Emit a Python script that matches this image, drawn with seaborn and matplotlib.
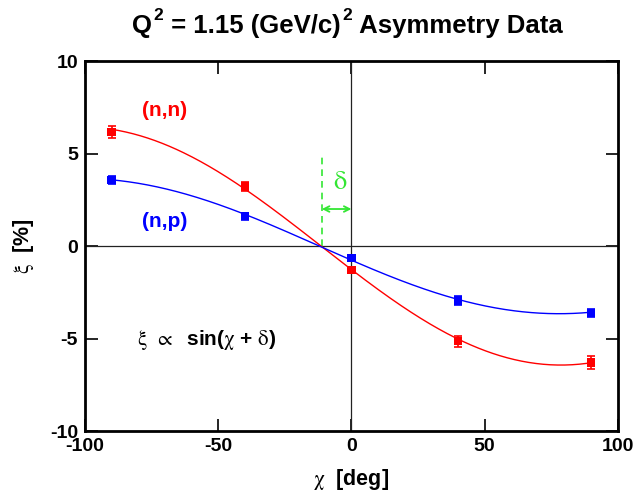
import numpy as np
import pandas as pd
import matplotlib
matplotlib.use("Agg")
import matplotlib.pyplot as plt
import seaborn as sns

# Measured asymmetries at each spin angle chi (deg)
chi = [-90, -40, 0, 40, 90]
xi_nn = [6.16, 3.21, -1.29, -5.14, -6.30]
err_nn = [0.30, 0.25, 0.12, 0.30, 0.35]
xi_np = [3.56, 1.61, -0.64, -2.95, -3.62]
err_np = [0.20, 0.20, 0.10, 0.25, 0.22]

delta_deg = 11.1          # phase offset shown by the green marker
delta_bar_top = 4.86
delta_arrow_y = 2.0

x_ticks = [-100, -50, 0, 50, 100]
y_ticks = [-10, -5, 0, 5, 10]

RED = "#ff0000"
BLUE = "#0000ff"
GREEN = "#33e633"

sns.set_theme(style="ticks")
plt.rcParams["font.family"] = ["Liberation Sans", "DejaVu Sans"]
plt.rcParams["mathtext.fontset"] = "stix"
plt.rcParams["axes.unicode_minus"] = False
plt.rcParams["text.color"] = "black"
plt.rcParams["axes.labelcolor"] = "black"


def sine_fit(x, y):
    """Least-squares fit of y = a*sin(x) + b*cos(x); returns a callable."""
    xr = np.radians(np.asarray(x, float))
    M = np.column_stack([np.sin(xr), np.cos(xr)])
    (a, b), *_ = np.linalg.lstsq(M, np.asarray(y, float), rcond=None)
    return lambda t: a * np.sin(np.radians(t)) + b * np.cos(np.radians(t))


grid = np.linspace(-90, 90, 400)
curves = pd.concat([
    pd.DataFrame({"chi": grid, "xi": sine_fit(chi, xi_nn)(grid), "set": "(n,n)"}),
    pd.DataFrame({"chi": grid, "xi": sine_fit(chi, xi_np)(grid), "set": "(n,p)"}),
])
points = pd.concat([
    pd.DataFrame({"chi": chi, "xi": xi_nn, "err": err_nn, "set": "(n,n)"}),
    pd.DataFrame({"chi": chi, "xi": xi_np, "err": err_np, "set": "(n,p)"}),
])
palette = {"(n,n)": RED, "(n,p)": BLUE}

fig = plt.figure(figsize=(6.39, 4.98), dpi=100)
ax = fig.add_axes([0.133, 0.1345, 0.834, 0.743])

# reference cross-hairs
ax.axhline(0, color="#222222", lw=0.9, zorder=1)
ax.axvline(0, color="#222222", lw=0.9, zorder=1)

sns.lineplot(data=curves, x="chi", y="xi", hue="set", palette=palette,
             lw=1.0, legend=False, ax=ax, zorder=3)

for name, grp in points.groupby("set"):
    ax.errorbar(grp["chi"], grp["xi"], yerr=grp["err"], fmt="none",
                ecolor=palette[name], elinewidth=1.2, capsize=3, capthick=1.2,
                zorder=4)
sns.scatterplot(data=points, x="chi", y="xi", hue="set", palette=palette,
                marker="s", s=36, edgecolor="none", legend=False, ax=ax,
                zorder=5)

# phase marker
ax.plot([-delta_deg, -delta_deg], [0, delta_bar_top], color=GREEN, lw=1.2,
        ls=(0, (4, 3)), zorder=2)
ax.annotate("", xy=(0, delta_arrow_y), xytext=(-delta_deg, delta_arrow_y),
            arrowprops=dict(arrowstyle="<->", color=GREEN, lw=1.3,
                            shrinkA=0, shrinkB=0, mutation_scale=10))
ax.text(-4.3, 3.45, r"$\mathrm{\delta}$", color=GREEN, fontsize=19,
        ha="center", va="center")

ax.text(-70, 7.3, "(n,n)", color=RED, fontsize=15, fontweight="bold",
        ha="center", va="center")
ax.text(-70, 1.32, "(n,p)", color=BLUE, fontsize=15, fontweight="bold",
        ha="center", va="center")
ax.text(-80.5, -5.1,
        r"$\mathrm{\xi}\;\;\propto$  sin($\mathrm{\chi}$ + $\mathrm{\delta}$)",
        fontsize=15, fontweight="bold", ha="left", va="center")

ax.set_xlim(-100, 100)
ax.set_ylim(-10, 10)
ax.set_xticks(x_ticks)
ax.set_yticks(y_ticks)
ax.tick_params(direction="in", length=9, width=1.2, top=True, right=True,
               labelsize=14, pad=5, colors="black")
for lbl in ax.get_xticklabels() + ax.get_yticklabels():
    lbl.set_fontweight("bold")
for sp in ax.spines.values():
    sp.set_linewidth(2.0)
    sp.set_color("black")

ax.set_xlabel(r"$\mathrm{\chi}$  [deg]", fontsize=15.5, fontweight="bold",
              labelpad=9)
ax.set_ylabel(r"$\mathrm{\xi}$  [%]", fontsize=15.5, fontweight="bold",
              labelpad=10)

# title assembled piece by piece so the exponents sit raised in bold sans
title_baseline = 1 - 33 / 498
title_pieces = [("Q", 18.5, 0), ("2", 12.5, 9), (" = 1.15 (GeV/c)", 18.5, 0),
                ("2", 12.5, 9), (" Asymmetry Data", 18.5, 0)]
prev = fig.text(0.206, title_baseline, title_pieces[0][0],
                fontsize=title_pieces[0][1], fontweight="bold", va="baseline")
for txt, size, rise in title_pieces[1:]:
    prev = ax.annotate(
        txt, xy=(1, title_baseline), xycoords=(prev, "figure fraction"),
        xytext=(1.0, rise), textcoords="offset points",
        fontsize=size, fontweight="bold", ha="left", va="baseline",
        annotation_clip=False)

fig.savefig("out.png", dpi=100, facecolor="white")
